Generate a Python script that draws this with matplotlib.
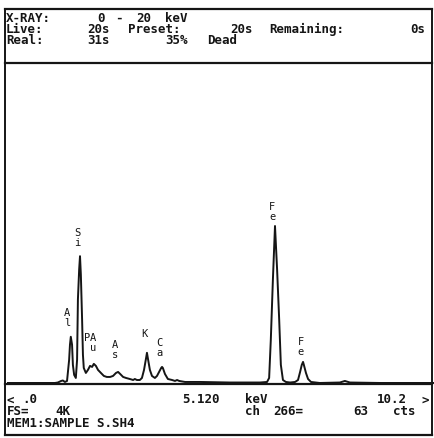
import numpy as np
import matplotlib.pyplot as plt
from matplotlib.lines import Line2D

energy_kev = [0.00, 1.14, 1.21, 1.29, 1.33, 1.38, 1.43, 1.48, 1.50, 1.52, 1.55, 1.57,
              1.60, 1.64, 1.67, 1.69, 1.72, 1.74, 1.76, 1.79, 1.81, 1.83, 1.88, 1.93,
              1.98, 2.03, 2.07, 2.12, 2.17, 2.24, 2.31, 2.38, 2.46, 2.53, 2.60, 2.65,
              2.70, 2.77, 2.84, 2.93, 3.01, 3.05, 3.10, 3.17, 3.22, 3.27, 3.32, 3.34,
              3.36, 3.41, 3.46, 3.53, 3.58, 3.63, 3.68, 3.70, 3.72, 3.77, 3.84, 3.94,
              4.01, 4.06, 4.11, 4.25, 4.61, 5.32, 6.04, 6.21, 6.26, 6.30, 6.35, 6.40,
              6.45, 6.50, 6.54, 6.59, 6.66, 6.76, 6.88, 6.95, 7.00, 7.04, 7.07, 7.09,
              7.14, 7.19, 7.26, 7.47, 7.95, 8.07, 8.19, 8.91, 10.20]
counts = [13, 13, 19, 39, 45, 26, 39, 308, 501, 603, 501, 244,
          116, 77, 308, 1079, 1464, 1631, 1400, 822, 372, 205, 141, 180,
          231, 218, 257, 231, 180, 141, 103, 90, 90, 103, 141, 154,
          128, 90, 77, 64, 51, 64, 51, 51, 77, 180, 334, 398,
          334, 180, 103, 77, 103, 154, 205, 218, 205, 128, 64, 51,
          39, 51, 39, 26, 26, 19, 19, 26, 77, 565, 1335, 2016,
          1464, 822, 244, 51, 26, 19, 26, 51, 154, 244, 282, 244,
          141, 64, 26, 13, 19, 39, 19, 13, 13]

# etiquetas de elementos (letras apiladas)
peak_labels = ["A\nl", "S\ni", "P", "A\nu", "A\ns", "K", "C\na", "F\ne", "F\ne"]
label_kev = [1.43, 1.67, 1.91, 2.05, 2.58, 3.27, 3.63, 6.33, 7.02]
label_cts = [850, 1875, 600, 540, 450, 655, 475, 2210, 490]

# textos de pantalla por fila
header_rows = [
    ["X-RAY:", "0", "-", "20", "keV"],
    ["Live:", "20s", "Preset:", "20s", "Remaining:", "0s"],
    ["Real:", "31s", "35%", "Dead"],
]
footer_rows = [
    ["<", ".0", "5.120", "keV", "10.2", ">"],
    ["FS=", "4K", "ch", "266=", "63", "cts"],
    ["MEM1:SAMPLE S.SH4"],
]

full_scale = 4096
e_max = 10.2

W, H = 435, 439
fig = plt.figure(figsize=(W / 100, H / 100), dpi=100)
fig.patch.set_facecolor("white")

# capa de fondo en pixeles para marco y textos
bg = fig.add_axes([0, 0, 1, 1])
bg.set_xlim(0, W)
bg.set_ylim(H, 0)
bg.axis("off")

ink = "#151515"
for y in [10, 64, 385, 436]:
    bg.add_line(Line2D([5, 432], [y, y], color=ink, lw=1.6))
for x in [5, 432]:
    bg.add_line(Line2D([x, x], [10, 436], color=ink, lw=1.4))

font = dict(family="DejaVu Sans Mono", weight="bold", color=ink, fontsize=9,
            va="center", ha="left")

# posiciones x (px) de cada palabra en pantalla
header_x = [[6, 97, 115, 136, 165],
            [6, 87, 128, 230, 269, 410],
            [6, 87, 165, 207]]
header_y = [18, 29.5, 41]
footer_x = [[7, 22, 182, 245, 377, 422],
            [7, 55, 245, 273, 353, 393],
            [7]]
footer_y = [400, 412, 424]

for rows, xs, ys in [(header_rows, header_x, header_y), (footer_rows, footer_x, footer_y)]:
    for row, xrow, y in zip(rows, xs, ys):
        for s, x in zip(row, xrow):
            bg.text(x, y, s, **font)

# area del espectro
x0, x1 = 7.2, 434.0
ytop, ybot = 64, 385
ax = fig.add_axes([x0 / W, (H - ybot) / H, (x1 - x0) / W, (ybot - ytop) / H])
ax.patch.set_alpha(0)
ax.set_xlim(0, e_max)
ax.set_ylim(0, full_scale)
ax.axis("off")

ax.plot(energy_kev, counts, color=ink, lw=1.4)

for s, e, c in zip(peak_labels, label_kev, label_cts):
    ax.text(e, c, s, family="DejaVu Sans Mono", color=ink, fontsize=7.5,
            ha="center", va="center", linespacing=1.0)

fig.savefig("out.png", dpi=100, facecolor="white")
